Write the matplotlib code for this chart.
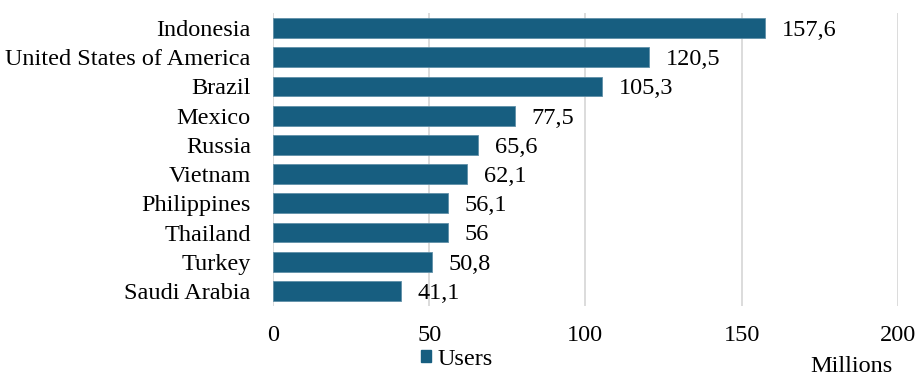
import matplotlib
matplotlib.use('Agg')
import matplotlib.pyplot as plt
from matplotlib.patches import Patch

countries = ['Indonesia', 'United States of America', 'Brazil', 'Mexico', 'Russia',
             'Vietnam', 'Philippines', 'Thailand', 'Turkey', 'Saudi Arabia']
users = [157.6, 120.5, 105.3, 77.5, 65.6, 62.1, 56.1, 56.0, 50.8, 41.1]
xticks = [0, 50, 100, 150, 200]

bar_color = '#175e80'
grid_color = '#d9d9d9'
fs = 17.5

plt.rcParams['font.family'] = ['Liberation Serif', 'DejaVu Serif']

fig = plt.figure(figsize=(9.18, 3.78), dpi=100)
ax = fig.add_axes([0.2974, 0.1915, 0.6806, 0.7731])

ypos = list(range(len(countries)))
ax.barh(ypos, users, height=0.68, color=bar_color, edgecolor='#5f8fa8', linewidth=0.6, zorder=3)

def fmt(v):
    s = f'{v:.1f}'
    if s.endswith('.0'):
        s = s[:-2]
    return s.replace('.', ',')

for y, v in zip(ypos, users):
    ax.text(v + 5.3, y + 0.08, fmt(v), va='center', ha='left', fontsize=fs, color='black')

ax.set_xlim(0, 200)
ax.set_ylim(len(countries) - 0.5, -0.5)
ax.set_yticks(ypos)
ax.set_yticklabels(countries, fontsize=fs, color='black')
ax.set_xticks(xticks)
ax.set_xticklabels([str(t) for t in xticks], fontsize=fs, color='black')
ax.tick_params(axis='both', length=0)
ax.tick_params(axis='x', pad=14)
ax.tick_params(axis='y', pad=16)

for s in ax.spines.values():
    s.set_visible(False)
for t in xticks:
    ax.axvline(t, color=grid_color, linewidth=1.3, zorder=0)

fig.legend(handles=[Patch(color=bar_color, label='Users')], loc='center',
           bbox_to_anchor=(0.498, 0.05), frameon=False, fontsize=fs,
           handlelength=0.38, handleheight=0.38, handletextpad=0.3)
fig.text(0.972, 0.03, 'Millions', ha='right', va='center', fontsize=fs, color='black')

fig.savefig('out.png', dpi=100)
